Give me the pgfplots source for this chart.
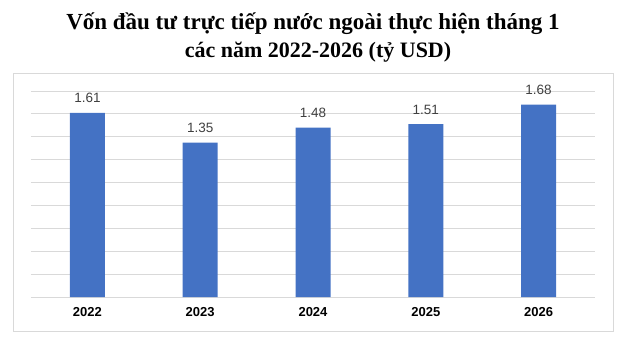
\documentclass[border=0pt]{standalone}
\usepackage{pgfplots}
\pgfplotsset{compat=1.18}
\usepackage{fontspec}
\setmainfont{Liberation Serif}
\newfontfamily\arial{Liberation Sans}
\definecolor{barblue}{HTML}{4472C4}
\definecolor{gridgray}{HTML}{D9D9D9}
\definecolor{lbl}{HTML}{404040}
\begin{document}
\begin{tikzpicture}
\path[use as bounding box] (0pt,0pt) rectangle (623pt,-341pt);
\draw[gridgray, line width=1pt] (13pt,-73pt) rectangle (613pt,-331pt);
\node[anchor=base, font=\bfseries\fontsize{23}{24}\selectfont] at (313pt,-29.5pt) {Vốn đầu tư trực tiếp nước ngoài thực hiện tháng 1};
\node[anchor=base, font=\bfseries\fontsize{22}{24}\selectfont] at (318pt,-57pt) {các năm 2022-2026 (tỷ USD)};
\begin{axis}[
  at={(31pt,-297pt)}, anchor=south west,
  scale only axis, width=564pt, height=206pt,
  xmin=-0.5, xmax=4.5, ymin=0, ymax=1.8,
  ytick={0,0.2,...,1.8}, yticklabels={},
  ymajorgrids, grid style={gridgray, line width=0.9pt},
  major tick length=0pt,
  axis line style={draw=none},
  xtick={0,1,2,3,4},
  xticklabels={2022,2023,2024,2025,2026},
  xticklabel style={font=\arial\bfseries\fontsize{13}{13}\selectfont, text=black, yshift=-7pt},
  ybar, bar width=35pt,
  point meta=explicit symbolic,
  nodes near coords,
  nodes near coords style={font=\arial\fontsize{13.5}{14}\selectfont, text=lbl, yshift=6.5pt},
  clip=false,
]
\addplot[fill=barblue, draw=none] coordinates {(0,1.61)[1.61] (1,1.35)[1.35] (2,1.48)[1.48] (3,1.51)[1.51] (4,1.68)[1.68]};
\end{axis}
\end{tikzpicture}
\end{document}
